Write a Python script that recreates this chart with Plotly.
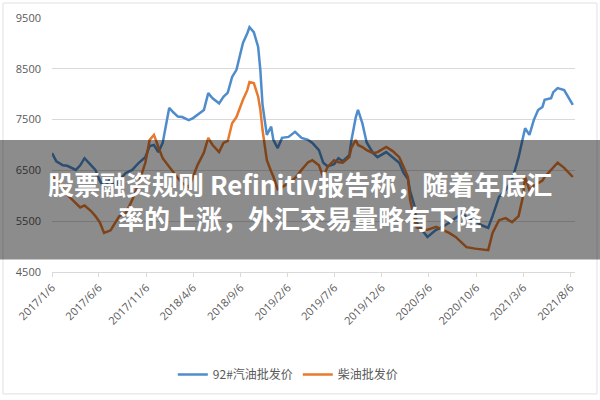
import pandas as pd
import plotly.graph_objects as go

# weekly Friday wholesale prices; week number counted from 2017-01-06
base_date = "2017-01-06"
week_no = [0, 2, 5, 7, 11, 13, 15, 18, 20, 22, 24, 27, 29, 31, 34, 37, 40, 43, 45, 47,
           49, 51, 54, 56, 58, 60, 63, 65, 67, 70, 72, 74, 77, 79, 81, 83, 85, 88, 90, 91,
           93, 95, 96, 97, 99, 101, 102, 104, 106, 109, 112, 115, 118, 120, 123, 125, 127, 130, 132, 134,
           137, 138, 140, 141, 143, 145, 148, 150, 154, 157, 160, 162, 164, 165, 167, 168, 171, 173, 177, 180,
           183, 186, 189, 191, 195, 198, 201, 203, 206, 209, 212, 215, 217, 218, 220, 222, 224, 226, 227, 230,
           231, 233, 236, 238, 240]

gasoline_92 = [6840, 6680, 6600, 6590, 6510, 6600, 6740, 6600, 6510, 6300, 6170, 6330, 6150, 6310, 6450, 6510, 6650, 6760, 6980, 7000,
               6860, 7040, 7730, 7640, 7560, 7550, 7490, 7530, 7590, 7690, 8020, 7920, 7820, 7950, 8030, 8340, 8480, 9010, 9200, 9320,
               9220, 8930, 8480, 7800, 7200, 7360, 7100, 6940, 7140, 7160, 7260, 7140, 7100, 7040, 6900, 6650, 6580, 6620, 6740, 6680,
               6800, 7100, 7550, 7690, 7430, 7050, 6840, 6760, 6860, 6760, 6650, 6450, 6330, 6100, 5800, 5470, 5290, 5190, 5330, 5390,
               5470, 5560, 5660, 5580, 5500, 5420, 5370, 5600, 5980, 6110, 6310, 6760, 7160, 7330, 7200, 7490, 7690, 7750, 7890, 7920,
               8040, 8120, 8080, 7940, 7790]

diesel = [6400, 6300, 6150, 6020, 5850, 5770, 5810, 5700, 5600, 5480, 5270, 5320, 5460, 5600, 5660, 5920, 6250, 6650, 7100, 7200,
          6960, 6740, 6570, 6450, 6350, 6250, 6170, 6370, 6600, 6850, 7140, 7000, 6860, 7040, 7080, 7430, 7550, 7890, 8080, 8240,
          8220, 7950, 7700, 7300, 6700, 6480, 6380, 6130, 6170, 6250, 6350, 6510, 6660, 6700, 6600, 6370, 6570, 6700, 6660, 6650,
          6760, 6950, 7100, 7000, 6960, 6900, 6840, 6860, 6960, 6880, 6760, 6570, 6370, 5920, 5520, 5380, 5330, 5330, 5390, 5330,
          5270, 5190, 5070, 4990, 4960, 4940, 4930, 5270, 5520, 5560, 5480, 5600, 5980, 6370, 6110, 6200, 6250, 6300, 6370, 6500,
          6550, 6650, 6550, 6450, 6370]

series_names = ["92#汽油批发价", "柴油批发价"]
tick_dates = ["2017-01-06", "2017-06-06", "2017-11-06", "2018-04-06", "2018-09-06", "2019-02-06",
              "2019-07-06", "2019-12-06", "2020-05-06", "2020-10-06", "2021-03-06", "2021-08-06"]
tick_labels = ["2017/1/6", "2017/6/6", "2017/11/6", "2018/4/6", "2018/9/6", "2019/2/6",
               "2019/7/6", "2019/12/6", "2020/5/6", "2020/10/6", "2021/3/6", "2021/8/6"]
y_ticks = [4500, 5500, 6500, 7500, 8500, 9500]
headline = "股票融资规则 Refinitiv报告称，随着年底汇<br>率的上涨，外汇交易量略有下降"

dates = pd.to_datetime(base_date) + pd.to_timedelta([w * 7 for w in week_no], unit="D")

fig = go.Figure()
fig.add_trace(go.Scatter(x=dates, y=gasoline_92, mode="lines", name=series_names[0],
                         line=dict(color="#4f8ccc", width=2.5)))
fig.add_trace(go.Scatter(x=dates, y=diesel, mode="lines", name=series_names[1],
                         line=dict(color="#e87a2f", width=2.5)))

font_axis = dict(family="Open Sans, Noto Sans CJK SC, sans-serif", size=11, color="#595959")

fig.update_layout(
    width=600, height=400,
    margin=dict(l=52, r=25, t=18, b=128, autoexpand=False),
    paper_bgcolor="white", plot_bgcolor="white",
    showlegend=True,
    legend=dict(orientation="h", xref="paper", x=0.231, xanchor="left",
                yref="container", y=0.100, yanchor="top",
                font=dict(family="Noto Sans CJK SC", size=12, color="#595959"),
                itemwidth=30, bgcolor="rgba(0,0,0,0)"),
    xaxis=dict(type="date", range=["2017-01-06", "2021-08-20"], automargin=False,
               tickvals=tick_dates, ticktext=tick_labels, tickangle=-45,
               tickfont=font_axis, showgrid=False, showline=True,
               linecolor="#d9d9d9", linewidth=1, ticks="outside",
               tickcolor="#d9d9d9", ticklen=4, zeroline=False),
    yaxis=dict(range=[4500, 9500], tickvals=y_ticks, tickfont=font_axis, automargin=False,
               showgrid=True, gridcolor="#d9d9d9", gridwidth=1,
               zeroline=False, showline=False, ticklabelstandoff=10),
)

# chart outer border
fig.add_shape(type="rect", xref="paper", yref="paper",
              x0=-0.0937, x1=1.042, y0=-0.480, y1=1.059,
              line=dict(color="#e0e0e0", width=1), fillcolor="rgba(0,0,0,0)", layer="below")
# dark translucent headline band
fig.add_shape(type="rect", xref="paper", yref="paper",
              x0=-0.11, x1=1.06, y0=0.0492, y1=0.5197,
              line=dict(width=0), fillcolor="rgba(0,0,0,0.45)", layer="above")
fig.add_annotation(text="<b>" + headline + "</b>", xref="paper", yref="paper",
                   x=0.4742, y=0.2815, xanchor="center", yanchor="middle",
                   showarrow=False, align="center",
                   font=dict(family="Noto Sans CJK SC", size=26, color="white"))

fig.write_html("out.html", config={"displayModeBar": False},
               post_script="document.body.style.margin='0';")
